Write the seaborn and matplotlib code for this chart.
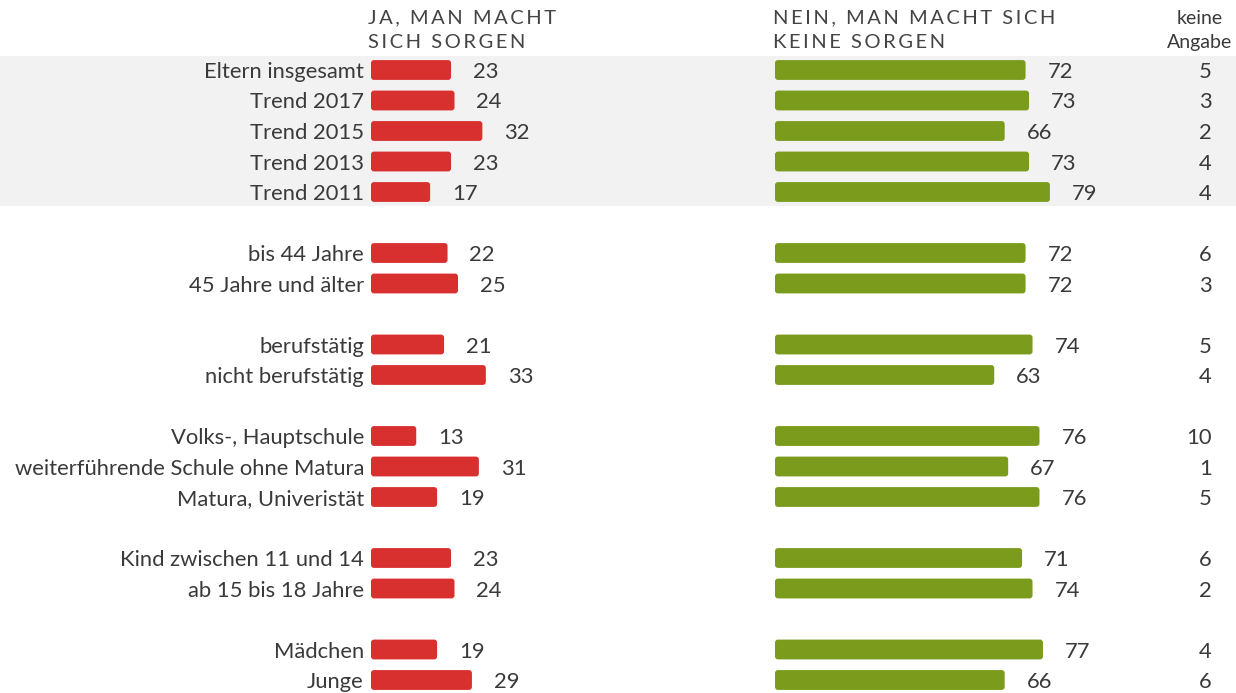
import numpy as np
import pandas as pd
import matplotlib
matplotlib.use('Agg')
import matplotlib.pyplot as plt
import seaborn as sns
from matplotlib.patches import FancyBboxPatch
from matplotlib.transforms import ScaledTranslation

# Daten
labels = ["Eltern insgesamt", "Trend 2017", "Trend 2015", "Trend 2013", "Trend 2011",
          "bis 44 Jahre", "45 Jahre und älter",
          "berufstätig", "nicht berufstätig",
          "Volks-, Hauptschule", "weiterführende Schule ohne Matura", "Matura, Univeristät",
          "Kind zwischen 11 und 14", "ab 15 bis 18 Jahre",
          "Mädchen", "Junge"]
ja = [23, 24, 32, 23, 17, 22, 25, 21, 33, 13, 31, 19, 23, 24, 19, 29]
nein = [72, 73, 66, 73, 79, 72, 72, 74, 63, 76, 67, 76, 71, 74, 77, 66]
keine = [5, 3, 2, 4, 4, 6, 3, 5, 4, 10, 1, 5, 6, 2, 4, 6]
gruppen = [5, 2, 2, 3, 2, 2]

header_ja = "JA, MAN MACHT\nSICH SORGEN"
header_nein = "NEIN, MAN MACHT SICH\nKEINE SORGEN"
header_keine = "keine\nAngabe"

RED = '#d8302f'
GREEN = '#7a9b1b'
TXT = '#3a3a3a'
FS = 15.8

# Positionen: eine Leerzeile zwischen den Gruppen
pos = []
p = 0
for n in gruppen:
    pos += list(range(p, p + n))
    p += n + 1

df = pd.DataFrame({'label': labels, 'pos': pos, 'ja': ja, 'nein': nein, 'keine': keine})

sns.set_theme(style='white')
plt.rcParams['font.family'] = ['Lato', 'DejaVu Sans']

W, H = 1236, 693
fig = plt.figure(figsize=(W / 100, H / 100), dpi=100)

top_px = 54.75
slot = 30.5
ax_h = (H - top_px) / H
ylim = ((H - top_px) / slot - 0.5, -0.5)

# Text etwas nach unten schieben (2 px)
down = ScaledTranslation(0, -2 / 100, fig.dpi_scale_trans)

# Hintergrund mit grauem Band
ax_bg = fig.add_axes([0, 0, 1, ax_h])
ax_bg.set_xlim(0, W)
ax_bg.set_ylim(ylim)
ax_bg.axhspan(-0.45, gruppen[0] - 1 + 0.45, color='#f2f2f2', lw=0)
ax_bg.axis('off')

for _, r in df.iterrows():
    ax_bg.text(364, r['pos'], r['label'], ha='right', va='center', fontsize=FS, color=TXT,
               transform=ax_bg.transData + down)
    ax_bg.text(1212, r['pos'], str(r['keine']), ha='right', va='center', fontsize=FS, color=TXT,
               transform=ax_bg.transData + down)


def rund(ax):
    # Balken mit abgerundeten Ecken ersetzen
    for b in list(ax.patches):
        x, y, w, h = b.get_x(), b.get_y(), b.get_width(), b.get_height()
        fc = b.get_facecolor()
        b.remove()
        ax.add_patch(FancyBboxPatch((x, y), w, h, boxstyle="round,pad=0,rounding_size=0.85",
                                    mutation_aspect=0.115, fc=fc, ec='none'))


def balken(col, left_px, color):
    ax = fig.add_axes([left_px / W, 0, 348 / W, ax_h])
    sns.barplot(data=df, x=col, y='pos', orient='h', native_scale=True, color=color,
                saturation=1, width=0.65, ax=ax)
    ax.set_xlim(0, 100)
    ax.set_ylim(ylim)
    ax.axis('off')
    ax.patch.set_visible(False)
    rund(ax)
    for _, r in df.iterrows():
        ax.text(r[col] + 6.3, r['pos'], str(r[col]), ha='left', va='center', fontsize=FS,
                color=TXT, clip_on=False, transform=ax.transData + down)
    return ax


balken('ja', 371, RED)
balken('nein', 775, GREEN)

sp = '\u2009'
def sperren(s):
    return '\n'.join(sp.join(list(line)) for line in s.split('\n'))

fig.text(368 / W, 1 - 9 / H, sperren(header_ja), ha='left', va='top', fontsize=14.5,
         color='#444444', linespacing=1.6)
fig.text(773 / W, 1 - 9 / H, sperren(header_nein), ha='left', va='top', fontsize=14.5,
         color='#444444', linespacing=1.6)
fig.text(1200 / W, 1 - 10 / H, header_keine, ha='center', va='top', fontsize=14,
         color=TXT, linespacing=1.5)

fig.savefig('out.png', dpi=100)
